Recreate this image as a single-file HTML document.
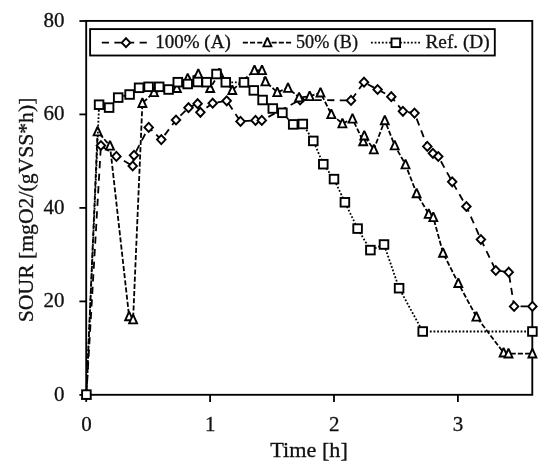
<!DOCTYPE html>
<html><head><meta charset="utf-8"><title>SOUR chart</title>
<style>
html,body{margin:0;padding:0;background:#fff;}
body{width:550px;height:472px;overflow:hidden;font-family:"Liberation Serif",serif;}
svg{display:block;filter:grayscale(1);}
text{font-family:"Liberation Serif",serif;fill:#111;stroke:#111;stroke-width:0.3px;}
</style></head><body>
<svg width="550" height="472" viewBox="0 0 550 472">
<defs>
<polygon id="mA" points="0,-4.45 4.25,0 0,4.45 -4.25,0" fill="#fff" stroke="#000" stroke-width="1.9" stroke-linejoin="miter"/>
<polygon id="mB" points="0,-4.85 3.95,3.85 -3.95,3.85" fill="#fff" stroke="#000" stroke-width="1.9" stroke-linejoin="miter" stroke-miterlimit="2"/>
<rect id="mD" x="-4.3" y="-4.3" width="8.6" height="8.6" fill="#fff" stroke="#000" stroke-width="1.9"/>
</defs>
<rect width="550" height="472" fill="#fff"/>
<!-- plot frame -->
<rect x="86.2" y="20.9" width="446.1" height="373.9" fill="none" stroke="#000" stroke-width="1.85"/>
<g stroke="#000" stroke-width="1.8">
<line x1="79.4" y1="394.9" x2="86.2" y2="394.9"/>
<line x1="79.4" y1="301.4" x2="86.2" y2="301.4"/>
<line x1="79.4" y1="207.9" x2="86.2" y2="207.9"/>
<line x1="79.4" y1="114.4" x2="86.2" y2="114.4"/>
<line x1="79.4" y1="21.0" x2="86.2" y2="21.0"/>
<line x1="86.2" y1="394.9" x2="86.2" y2="401.9"/>
<line x1="210.1" y1="394.9" x2="210.1" y2="401.9"/>
<line x1="334.0" y1="394.9" x2="334.0" y2="401.9"/>
<line x1="457.9" y1="394.9" x2="457.9" y2="401.9"/>
</g>
<g font-size="21px">
<text x="64.5" y="400.7" text-anchor="end">0</text>
<text x="64.5" y="307.2" text-anchor="end">20</text>
<text x="64.5" y="213.7" text-anchor="end">40</text>
<text x="64.5" y="120.2" text-anchor="end">60</text>
<text x="64.5" y="26.8" text-anchor="end">80</text>
<text x="86.4" y="430.8" text-anchor="middle">0</text>
<text x="210.3" y="430.8" text-anchor="middle">1</text>
<text x="334.2" y="430.8" text-anchor="middle">2</text>
<text x="458.1" y="430.8" text-anchor="middle">3</text>
</g>
<!-- series lines -->
<polyline points="86.4,394.6 100.9,145.5 116.4,156.4 132.7,166.0 134.0,155.3 148.7,127.4 161.3,139.6 176.0,120.0 188.5,107.7 197.6,103.7 200.4,112.3 212.7,103.2 226.7,100.8 240.5,121.4 255.5,120.4 261.8,120.4 300.1,99.9 351.0,100.4 364.0,82.2 377.6,89.5 391.3,96.7 402.9,111.3 414.5,113.1 427.3,146.4 432.9,153.3 438.3,156.5 452.2,181.8 466.4,206.5 480.9,239.5 495.8,270.5 508.7,272.2 514.1,306.4 532.4,306.4" fill="none" stroke="#000" stroke-width="1.8" stroke-dasharray="7.2 5.4"/>
<use href="#mA" x="86.4" y="394.6"/>
<use href="#mA" x="100.9" y="145.5"/>
<use href="#mA" x="116.4" y="156.4"/>
<use href="#mA" x="132.7" y="166.0"/>
<use href="#mA" x="134.0" y="155.3"/>
<use href="#mA" x="148.7" y="127.4"/>
<use href="#mA" x="161.3" y="139.6"/>
<use href="#mA" x="176.0" y="120.0"/>
<use href="#mA" x="188.5" y="107.7"/>
<use href="#mA" x="197.6" y="103.7"/>
<use href="#mA" x="200.4" y="112.3"/>
<use href="#mA" x="212.7" y="103.2"/>
<use href="#mA" x="226.7" y="100.8"/>
<use href="#mA" x="240.5" y="121.4"/>
<use href="#mA" x="255.5" y="120.4"/>
<use href="#mA" x="261.8" y="120.4"/>
<use href="#mA" x="300.1" y="99.9"/>
<use href="#mA" x="351.0" y="100.4"/>
<use href="#mA" x="364.0" y="82.2"/>
<use href="#mA" x="377.6" y="89.5"/>
<use href="#mA" x="391.3" y="96.7"/>
<use href="#mA" x="402.9" y="111.3"/>
<use href="#mA" x="414.5" y="113.1"/>
<use href="#mA" x="427.3" y="146.4"/>
<use href="#mA" x="432.9" y="153.3"/>
<use href="#mA" x="438.3" y="156.5"/>
<use href="#mA" x="452.2" y="181.8"/>
<use href="#mA" x="466.4" y="206.5"/>
<use href="#mA" x="480.9" y="239.5"/>
<use href="#mA" x="495.8" y="270.5"/>
<use href="#mA" x="508.7" y="272.2"/>
<use href="#mA" x="514.1" y="306.4"/>
<use href="#mA" x="532.4" y="306.4"/>
<polyline points="86.4,394.6 97.6,131.5 110.0,145.8 129.1,316.4 133.1,319.5 142.4,103.1 154.0,92.3 176.9,88.2 187.7,78.5 198.3,74.0 210.2,88.2 219.3,73.2 232.3,90.2 254.5,70.3 262.0,70.3 265.4,81.5 277.3,92.3 288.0,88.0 299.1,97.5 309.7,96.3 320.5,92.7 331.3,114.3 342.4,123.5 352.5,118.8 363.2,141.4 364.3,135.7 373.8,149.5 384.8,120.4 394.7,145.5 405.5,164.5 416.6,193.4 428.7,214.0 433.3,217.3 443.0,252.9 458.3,283.2 476.4,316.8 503.6,352.7 508.5,353.6 532.4,353.6" fill="none" stroke="#000" stroke-width="1.8" stroke-dasharray="5.1 2.1"/>
<use href="#mB" x="86.4" y="394.6"/>
<use href="#mB" x="97.6" y="131.5"/>
<use href="#mB" x="110.0" y="145.8"/>
<use href="#mB" x="129.1" y="316.4"/>
<use href="#mB" x="133.1" y="319.5"/>
<use href="#mB" x="142.4" y="103.1"/>
<use href="#mB" x="154.0" y="92.3"/>
<use href="#mB" x="176.9" y="88.2"/>
<use href="#mB" x="187.7" y="78.5"/>
<use href="#mB" x="198.3" y="74.0"/>
<use href="#mB" x="210.2" y="88.2"/>
<use href="#mB" x="219.3" y="73.2"/>
<use href="#mB" x="232.3" y="90.2"/>
<use href="#mB" x="254.5" y="70.3"/>
<use href="#mB" x="262.0" y="70.3"/>
<use href="#mB" x="265.4" y="81.5"/>
<use href="#mB" x="277.3" y="92.3"/>
<use href="#mB" x="288.0" y="88.0"/>
<use href="#mB" x="299.1" y="97.5"/>
<use href="#mB" x="309.7" y="96.3"/>
<use href="#mB" x="320.5" y="92.7"/>
<use href="#mB" x="331.3" y="114.3"/>
<use href="#mB" x="342.4" y="123.5"/>
<use href="#mB" x="352.5" y="118.8"/>
<use href="#mB" x="363.2" y="141.4"/>
<use href="#mB" x="364.3" y="135.7"/>
<use href="#mB" x="373.8" y="149.5"/>
<use href="#mB" x="384.8" y="120.4"/>
<use href="#mB" x="394.7" y="145.5"/>
<use href="#mB" x="405.5" y="164.5"/>
<use href="#mB" x="416.6" y="193.4"/>
<use href="#mB" x="428.7" y="214.0"/>
<use href="#mB" x="433.3" y="217.3"/>
<use href="#mB" x="443.0" y="252.9"/>
<use href="#mB" x="458.3" y="283.2"/>
<use href="#mB" x="476.4" y="316.8"/>
<use href="#mB" x="503.6" y="352.7"/>
<use href="#mB" x="508.5" y="353.6"/>
<use href="#mB" x="532.4" y="353.6"/>
<polyline points="86.4,394.6 99.1,104.7 109.1,107.6 118.2,97.6 129.6,94.5 139.1,87.8 148.6,86.8 159.2,86.8 168.6,89.5 177.8,82.2 187.7,84.0 197.7,82.0 206.6,82.2 216.5,74.0 225.8,82.3 244.0,82.4 253.8,90.4 262.6,100.0 272.8,108.5 282.4,112.8 293.2,124.4 302.8,124.0 313.3,140.9 323.3,164.2 334.0,179.1 344.9,202.3 357.6,228.6 370.4,250.1 384.0,244.5 399.1,288.2 422.7,331.5 532.4,331.5" fill="none" stroke="#000" stroke-width="1.8" stroke-dasharray="1.8 1.83"/>
<use href="#mD" x="86.4" y="394.6"/>
<use href="#mD" x="99.1" y="104.7"/>
<use href="#mD" x="109.1" y="107.6"/>
<use href="#mD" x="118.2" y="97.6"/>
<use href="#mD" x="129.6" y="94.5"/>
<use href="#mD" x="139.1" y="87.8"/>
<use href="#mD" x="148.6" y="86.8"/>
<use href="#mD" x="159.2" y="86.8"/>
<use href="#mD" x="168.6" y="89.5"/>
<use href="#mD" x="177.8" y="82.2"/>
<use href="#mD" x="187.7" y="84.0"/>
<use href="#mD" x="197.7" y="82.0"/>
<use href="#mD" x="206.6" y="82.2"/>
<use href="#mD" x="216.5" y="74.0"/>
<use href="#mD" x="225.8" y="82.3"/>
<use href="#mD" x="244.0" y="82.4"/>
<use href="#mD" x="253.8" y="90.4"/>
<use href="#mD" x="262.6" y="100.0"/>
<use href="#mD" x="272.8" y="108.5"/>
<use href="#mD" x="282.4" y="112.8"/>
<use href="#mD" x="293.2" y="124.4"/>
<use href="#mD" x="302.8" y="124.0"/>
<use href="#mD" x="313.3" y="140.9"/>
<use href="#mD" x="323.3" y="164.2"/>
<use href="#mD" x="334.0" y="179.1"/>
<use href="#mD" x="344.9" y="202.3"/>
<use href="#mD" x="357.6" y="228.6"/>
<use href="#mD" x="370.4" y="250.1"/>
<use href="#mD" x="384.0" y="244.5"/>
<use href="#mD" x="399.1" y="288.2"/>
<use href="#mD" x="422.7" y="331.5"/>
<use href="#mD" x="532.4" y="331.5"/>
<!-- legend -->
<rect x="90.1" y="29.1" width="404.7" height="26.4" fill="#fff" stroke="#000" stroke-width="1.85"/>
<line x1="101.8" y1="42.7" x2="150.5" y2="42.7" stroke="#000" stroke-width="1.8" stroke-dasharray="7.2 5.4"/>
<use href="#mA" x="126" y="42.7"/>
<text x="155.2" y="48" font-size="18.3px" textLength="75.6" lengthAdjust="spacingAndGlyphs">100% (A)</text>
<line x1="242.8" y1="42.7" x2="291.8" y2="42.7" stroke="#000" stroke-width="1.8" stroke-dasharray="5.1 2.1"/>
<use href="#mB" x="267.4" y="42.5"/>
<text x="296.0" y="48" font-size="18.3px" textLength="62" lengthAdjust="spacingAndGlyphs">50% (B)</text>
<line x1="371" y1="42.7" x2="420" y2="42.7" stroke="#000" stroke-width="1.8" stroke-dasharray="1.8 1.83"/>
<use href="#mD" x="395.8" y="42.8"/>
<text x="425.5" y="48" font-size="18.3px" textLength="64.2" lengthAdjust="spacingAndGlyphs">Ref. (D)</text>
<!-- axis titles -->
<text x="309.1" y="457.2" font-size="21.2px" text-anchor="middle" textLength="77.6" lengthAdjust="spacingAndGlyphs">Time [h]</text>
<text transform="translate(32.6,209.9) rotate(-90)" font-size="21.2px" text-anchor="middle" textLength="224.6" lengthAdjust="spacingAndGlyphs">SOUR [mgO2/(gVSS*h)]</text>
</svg>
</body></html>
